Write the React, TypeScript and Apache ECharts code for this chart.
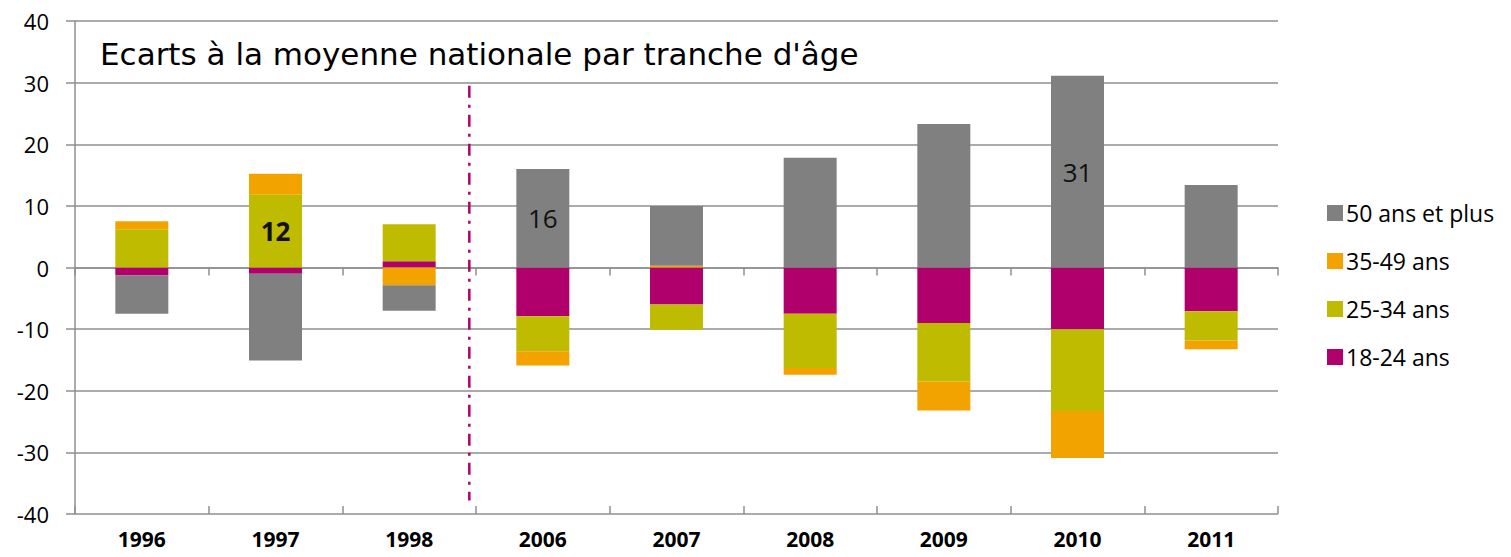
import React, { useEffect, useRef } from "react";
import * as echarts from "echarts";

const years = ["1996", "1997", "1998", "2006", "2007", "2008", "2009", "2010", "2011"];
const s18_24 = [-1.3, -1.0, 1.0, -7.9, -6.0, -7.5, -9.0, -10.0, -7.1];
const s25_34 = [6.2, 11.8, 6.0, -5.7, -4.1, -8.8, -9.5, -13.3, -4.75];
const s35_49 = [1.3, 3.4, -2.9, -2.3, 0.3, -1.1, -4.7, -7.6, -1.4];
const s50p = [-6.2, -14.1, -4.1, 16.0, 9.7, 17.8, 23.3, 31.1, 13.4];
const yTicks = [-40, -30, -20, -10, 0, 10, 20, 30, 40];
const separatorX = 2.45;
const separatorY = [29.5, -37.8];
const titleText = "Ecarts à la moyenne nationale par tranche d'âge";

const C_GRAY = "#808080";
const C_ORANGE = "#F2A300";
const C_OLIVE = "#BFBB00";
const C_MAGENTA = "#B0006C";
const C_AXIS = "#8f8f8f";
const FONT = "'Open Sans', 'Noto Sans', sans-serif";

export default function App() {
  const ref = useRef<HTMLDivElement>(null);
  useEffect(() => {
    document.body.style.margin = "0";
    document.body.style.overflow = "hidden";
    if (!ref.current) return;
    const chart = echarts.init(ref.current, null, { renderer: "svg" });
    const labelFor = (bold: boolean) => ({
      show: true,
      position: "inside",
      formatter: (p: any) => String(Math.round(p.value)),
      fontSize: 26,
      fontFamily: FONT,
      fontWeight: bold ? "bold" : "normal",
      color: "#111",
    });
    const mk = (name: string, data: number[], color: string, labels: { [k: number]: boolean }) => ({
      name,
      type: "bar",
      stack: "total",
      xAxisIndex: 0,
      yAxisIndex: 0,
      barWidth: 53,
      itemStyle: { color },
      emphasis: { disabled: true },
      data: data.map((v, i) => (i in labels ? { value: v, label: labelFor(labels[i]) } : v)),
    });
    chart.setOption({
      animation: false,
      textStyle: { fontFamily: FONT },
      title: {
        text: titleText,
        left: 95,
        top: 33,
        textStyle: { fontSize: 31, fontWeight: "normal", color: "#000", fontFamily: "'DejaVu Sans', sans-serif" },
      },
      legend: {
        orient: "vertical",
        left: 1322,
        top: 196,
        itemGap: 24,
        itemWidth: 16,
        itemHeight: 16,
        icon: "rect",
        data: ["50 ans et plus", "35-49 ans", "25-34 ans", "18-24 ans"],
        textStyle: { fontSize: 23, lineHeight: 24, color: "#000", fontFamily: FONT, padding: [0, 0, 0, -2] },
      },
      grid: { left: 75, right: 233, top: 21, bottom: 43 },
      xAxis: [
        {
          type: "category",
          data: years,
          position: "bottom",
          axisLine: { onZero: false, show: false },
          axisTick: { show: false },
          axisLabel: {
            margin: 14,
            fontSize: 21,
            lineHeight: 21,
            fontWeight: "bold",
            color: "#000",
            fontFamily: FONT,
          },
        },
        {
          type: "category",
          data: years,
          position: "bottom",
          axisLine: { onZero: true, lineStyle: { color: C_AXIS, width: 1.5 } },
          axisTick: { show: true, length: 8, lineStyle: { color: C_AXIS, width: 1.5 } },
          axisLabel: { show: false },
        },
        {
          type: "category",
          data: years,
          position: "bottom",
          axisLine: { onZero: true, show: false },
          axisTick: { show: true, inside: true, length: 8, lineStyle: { color: C_AXIS, width: 1.5 } },
          axisLabel: { show: false },
        },
        {
          type: "value",
          min: -0.5,
          max: 8.5,
          show: false,
        },
      ],
      yAxis: {
        type: "value",
        min: -40,
        max: 40,
        interval: 10,
        axisLine: { show: true, onZero: false, lineStyle: { color: C_AXIS, width: 1.5 } },
        axisTick: { show: true, length: 9, lineStyle: { color: C_AXIS, width: 1.5 } },
        splitLine: { show: true, lineStyle: { color: C_AXIS, width: 1.5 } },
        axisLabel: {
          margin: 26,
          fontSize: 22,
          color: "#000",
          fontFamily: FONT,
          formatter: (v: number) => (yTicks.includes(v) ? String(v) : ""),
        },
      },
      series: [
        mk("18-24 ans", s18_24, C_MAGENTA, {}),
        mk("25-34 ans", s25_34, C_OLIVE, { 1: true }),
        mk("35-49 ans", s35_49, C_ORANGE, {}),
        mk("50 ans et plus", s50p, C_GRAY, { 3: false, 7: false }),
        {
          name: "sep",
          type: "line",
          xAxisIndex: 3,
          yAxisIndex: 0,
          symbol: "none",
          silent: true,
          lineStyle: { color: C_MAGENTA, width: 2.5, type: [12, 7, 3, 7] },
          data: [
            [separatorX, separatorY[0]],
            [separatorX, separatorY[1]],
          ],
        },
      ],
    });
    return () => chart.dispose();
  }, []);
  return <div ref={ref} style={{ width: 1511, height: 557 }} />;
}
